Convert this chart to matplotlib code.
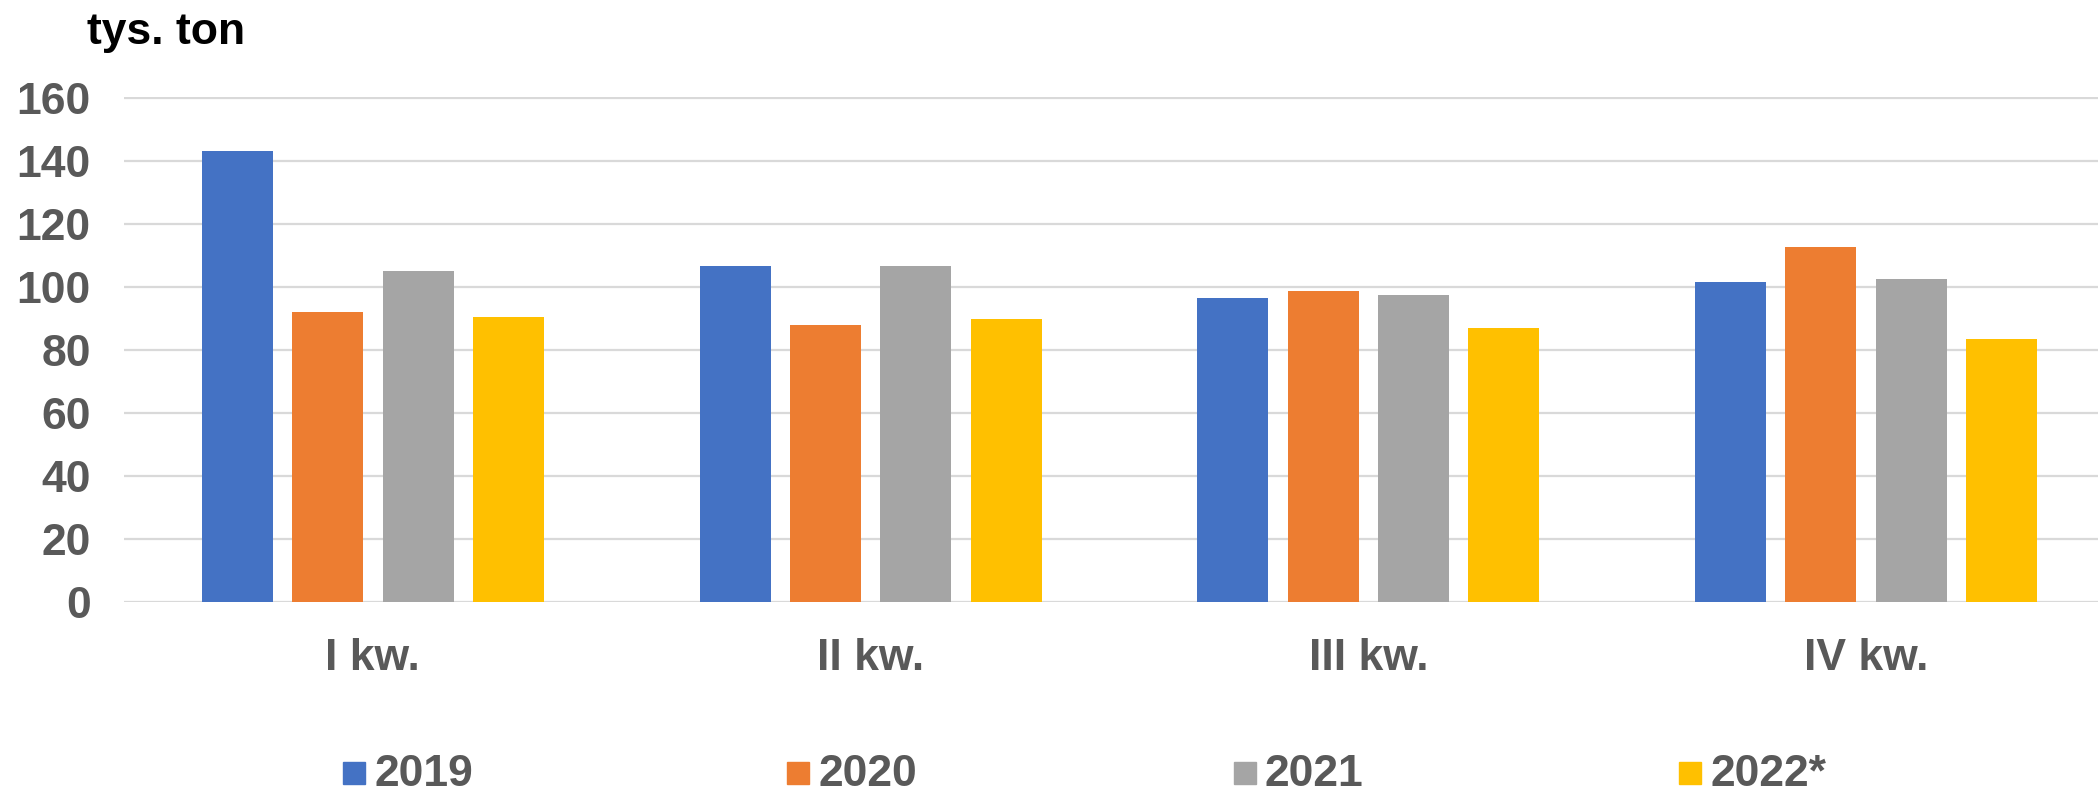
import matplotlib
matplotlib.use("Agg")
import matplotlib.pyplot as plt
from matplotlib.patches import Rectangle
import numpy as np

quarters = ["I kw.", "II kw.", "III kw.", "IV kw."]
years = ["2019", "2020", "2021", "2022*"]
v2019 = [143.3, 106.7, 96.5, 101.5]
v2020 = [92.2, 88.0, 98.6, 112.7]
v2021 = [105.0, 106.7, 97.5, 102.4]
v2022 = [90.4, 89.9, 87.1, 83.6]
series = [v2019, v2020, v2021, v2022]
colors = ["#4472C4", "#ED7D31", "#A5A5A5", "#FFC000"]
yticks = [0, 20, 40, 60, 80, 100, 120, 140, 160]

W, H = 2098, 794
fig = plt.figure(figsize=(W / 100, H / 100), dpi=100)
plt.rcParams['font.family'] = ['Liberation Sans', 'DejaVu Sans']
FS = 32
gray = "#595959"

ax = fig.add_axes([124 / W, (H - 601.5) / H, 1991 / W, 504.7 / H])
x = np.arange(len(quarters))
pitch, bw = 0.1814, 0.1426
for i, (vals, c) in enumerate(zip(series, colors)):
    ax.bar(x + (i - 1.5) * pitch, vals, width=bw, color=c, zorder=3, label=years[i])

ax.set_xlim(-0.5, 3.5)
ax.set_ylim(0, 160.5)
ax.set_yticks(yticks)
ax.set_yticklabels([str(t) for t in yticks], fontsize=FS, fontweight='bold', color=gray)
ax.set_xticks(x)
ax.set_xticklabels(quarters, fontsize=FS, fontweight='bold', color=gray)
ax.tick_params(axis='y', length=0, pad=24)
ax.tick_params(axis='x', length=0, pad=26)
ax.grid(axis='y', color="#D9D9D9", linewidth=1.6, zorder=0)
ax.set_axisbelow(True)
for s in ax.spines.values():
    s.set_visible(False)

fig.text(87 / W, (H - 44) / H, "tys. ton", fontsize=FS, fontweight='bold', color='black',
         ha='left', va='baseline')

leg_x = [343, 787, 1234, 1679]
for lx, lab, c in zip(leg_x, years, colors):
    fig.patches.append(Rectangle((lx / W, (H - 784) / H), 22 / W, 22 / H,
                                 transform=fig.transFigure, color=c, figure=fig))
    fig.text((lx + 31) / W, (H - 786) / H, lab, fontsize=FS, fontweight='bold',
             color=gray, ha='left', va='baseline')

fig.savefig("out.png", dpi=100)
